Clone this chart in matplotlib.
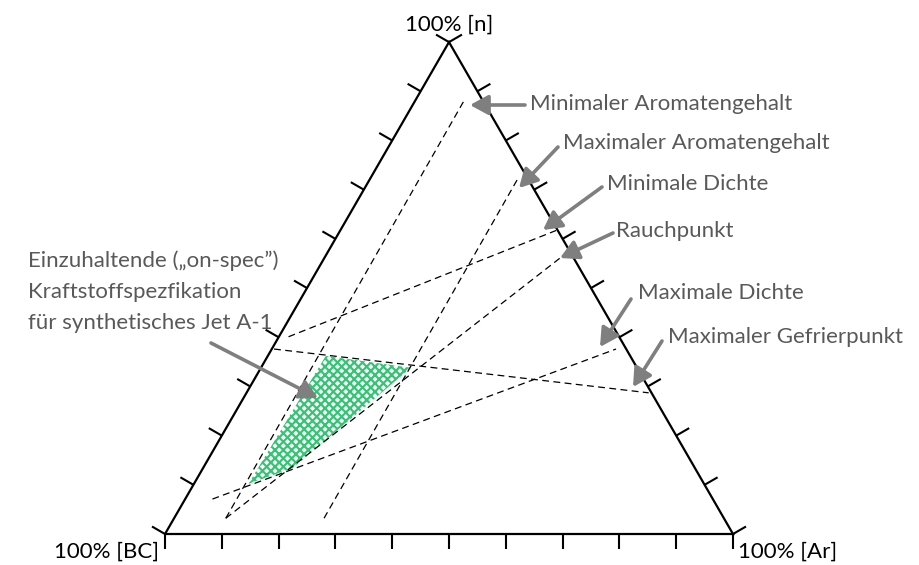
import numpy as np
import matplotlib
matplotlib.use('Agg')
import matplotlib.pyplot as plt
from matplotlib.patches import Polygon

plt.rcParams['font.family'] = ['Lato', 'DejaVu Sans']
plt.rcParams['hatch.linewidth'] = 1.6

# ---------------- data ----------------
corner_labels = ['100% [BC]', '100% [n]', '100% [Ar]']
n_divisions = 10

# constraint lines, compositions (BC, n, Ar) in %
line_names = ['Minimaler Aromatengehalt', 'Maximaler Aromatengehalt',
              'Minimale Dichte', 'Rauchpunkt', 'Maximale Dichte',
              'Maximaler Gefrierpunkt']
line_start = [(87.7, 3.2, 9.1), (70.4, 3.2, 26.4), (58.2, 40.1, 1.7),
              (87.7, 3.2, 9.1), (88.1, 7.1, 4.8), (62.0, 37.6, 0.4)]
line_end = [(3.0, 88.4, 8.6), (2.0, 72.0, 26.0), (0.3, 61.7, 38.0),
            (2.4, 56.1, 41.5), (1.8, 37.6, 60.6), (0.5, 28.7, 70.8)]

spec_label = ['Einzuhaltende (\u201eon-spec\u201d)', 'Kraftstoffspezfikation',
              'f\u00fcr synthetisches Jet A-1']
spec_region = [(53.6, 36.2, 10.2), (39.8, 33.8, 26.4),
               (70.8, 13.4, 15.8), (80.2, 10.2, 9.6)]

# ---------------- helpers ----------------
H = np.sqrt(3) / 2


def tern(c):
    bc, n, ar = np.asarray(c, float) / np.sum(c)
    return ar + n / 2, n * H


W = 568.0      # triangle side in pixels
X0 = 165.0     # BC corner x (pixels from left)
YB = 534.0     # base line y (pixels from top)


def P(px, py):
    """pixel position (from top-left) -> data coordinates"""
    return (px - X0) / W, (YB - py) / W


fig = plt.figure(figsize=(9.2, 5.65), dpi=100)
ax = fig.add_axes([0, 0, 1, 1])
ax.set_xlim(-X0 / W, (920 - X0) / W)
ax.set_ylim(-(565 - YB) / W, YB / W)
ax.axis('off')

# triangle
corners = np.array([[0, 0], [1, 0], [0.5, H], [0, 0]])
ax.plot(corners[:, 0], corners[:, 1], color='black', lw=1.6,
        solid_joinstyle='miter', solid_capstyle='butt', zorder=3)

# ticks
L = 15 / W
for i in range(n_divisions + 1):
    f = i / n_divisions
    segs = [((f, 0), (0, -1)),
            ((0.5 * f, H * f), (-H, 0.5)),
            ((1 - 0.5 * f, H * f), (H, 0.5))]
    for (x, y), (dx, dy) in segs:
        ax.plot([x, x + L * dx], [y, y + L * dy], color='black', lw=1.5,
                solid_capstyle='butt', zorder=3)

# spec region
poly = np.array([tern(c) for c in spec_region])
ax.add_patch(Polygon(poly, closed=True, facecolor='white', edgecolor='#34c474',
                     hatch='xxxx', lw=0, zorder=1))

# constraint lines
for s, e in zip(line_start, line_end):
    xs, ys = tern(s)
    xe, ye = tern(e)
    ax.plot([xs, xe], [ys, ye], color='black', lw=0.9,
            linestyle=(0, (5.5, 3.5)), zorder=2)

# corner labels
fs = 16
ax.text(*P(449, 31), corner_labels[1], ha='center', va='baseline', fontsize=fs, color='black')
ax.text(*P(159, 558), corner_labels[0], ha='right', va='baseline', fontsize=fs, color='black')
ax.text(*P(738, 558), corner_labels[2], ha='left', va='baseline', fontsize=fs, color='black')

# annotations (layout)
text_pos = [(530, 110), (563, 149), (607, 190), (616, 237), (638, 299), (668, 343)]
arrow_tail = [(525, 105), (558, 147), (602, 187), (613, 233), (631, 299), (662, 341)]
arrow_tip = [(470, 105), (519, 188), (543, 230), (560, 258), (600, 347), (633, 387)]

tcol = '#595959'
acol = '#7f7f7f'
aprops = dict(arrowstyle='-|>,head_length=0.55,head_width=0.3', color=acol,
              lw=2.6, shrinkA=0, shrinkB=0, mutation_scale=20)

for name, tp, at, ah in zip(line_names, text_pos, arrow_tail, arrow_tip):
    ax.text(*P(*tp), name, ha='left', va='baseline', fontsize=fs, color=tcol)
    ax.annotate('', xy=P(*ah), xytext=P(*at), arrowprops=aprops, zorder=4)

for k, line in enumerate(spec_label):
    ax.text(*P(28, 267 + 31 * k), line, ha='left', va='baseline', fontsize=fs, color=tcol)
ax.annotate('', xy=P(318, 398), xytext=P(211, 343), arrowprops=aprops, zorder=4)

fig.savefig('out.png', dpi=100)
